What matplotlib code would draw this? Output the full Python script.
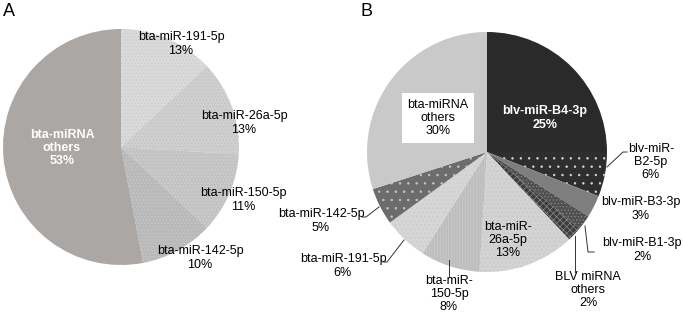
import matplotlib.pyplot as plt

plt.rcParams['font.family'] = ['Liberation Sans', 'DejaVu Sans']
plt.rcParams['hatch.linewidth'] = 0.5

# panel A
a_labels = ['bta-miR-191-5p', 'bta-miR-26a-5p', 'bta-miR-150-5p', 'bta-miR-142-5p', 'bta-miRNA\nothers']
a_values = [13, 13, 11, 10, 53]

# panel B
b_labels = ['blv-miR-B4-3p', 'blv-miR-\nB2-5p', 'blv-miR-B3-3p', 'blv-miR-B1-3p', 'BLV miRNA\nothers',
            'bta-miR-\n26a-5p', 'bta-miR-\n150-5p', 'bta-miR-191-5p', 'bta-miR-142-5p', 'bta-miRNA\nothers']
b_values = [25, 6, 3, 2, 2, 13, 8, 6, 5, 30]

W, H = 683, 315
fig = plt.figure(figsize=(W / 100, H / 100), dpi=100)
ax = fig.add_axes([0, 0, 1, 1])

def py(y):
    # pixel row (from top) -> data y
    return H - y

a_face = ['#dadada', '#cfcfcf', '#c3c3c3', '#b9b9b9', '#aaa7a5']
a_hatch = ['#cacaca', '#c0c0c0', '#d4d4d4', '#cacaca', None]
b_face = ['#2a2a2a', '#2e2e2e', '#7e7e7e', '#505050', '#3c3c3c',
          '#d3d3d3', '#bdbdbd', '#d6d6d6', '#6c6c6c', '#c9c9c9']
b_hatch = [None, '#d8d8d8', None, '#8a8a8a', '#8a8a8a',
           '#c6c6c6', '#cccccc', '#cacaca', '#c8c8c8', None]
b_pat = [None, '..', None, '.....', 'xxxxx', '....', '||||||', '....', '..', None]


def draw_pie(values, face, hcol, pats, center, radius):
    wedges, _ = ax.pie(values, colors=face, startangle=90, counterclock=False,
                       center=center, radius=radius,
                       wedgeprops=dict(linewidth=0))
    over, _ = ax.pie(values, startangle=90, counterclock=False,
                     center=center, radius=radius,
                     wedgeprops=dict(linewidth=0, fill=False))
    for w, hc, p in zip(over, hcol, pats):
        if hc is None:
            w.set_visible(False)
        else:
            w.set_hatch(p)
            w.set_edgecolor(hc)
    return wedges


draw_pie(a_values, a_face, a_hatch, ['.....', '.....', '.....', '.....', None], (121, py(147)), 118)
draw_pie(b_values, b_face, b_hatch, b_pat, (487, py(152)), 120)

ax.set_xlim(0, W)
ax.set_ylim(0, H)
ax.set_aspect('equal')
ax.axis('off')

fs = 9
def lab(x, y, s, **kw):
    kw.setdefault('color', 'black')
    ax.text(x, py(y), s, ha='center', va='center', fontsize=fs, linespacing=1.15, **kw)

# panel A labels
a_pos = [(181, 44), (244, 123), (243, 200), (200, 258)]
for (x, y), name, v in zip(a_pos, a_labels[:4], a_values[:4]):
    lab(x, y, f'{name}\n{v}%')
lab(62, 148, f'{a_labels[4]}\n{a_values[4]}%', color='white', fontweight='bold')

# panel B labels
lab(545, 118, f'{b_labels[0]}\n{b_values[0]}%', color='white', fontweight='bold')
lab(651, 162, f'{b_labels[1]}\n{b_values[1]}%')
lab(641, 209, f'{b_labels[2]}\n{b_values[2]}%')
lab(642, 250, f'{b_labels[3]}\n{b_values[3]}%')
lab(588, 290, f'{b_labels[4]}\n{b_values[4]}%')
lab(508, 240, f'{b_labels[5]}\n{b_values[5]}%')
lab(449, 294, f'{b_labels[6]}\n{b_values[6]}%')
lab(343, 266, f'{b_labels[7]}\n{b_values[7]}%')
lab(321, 221, f'{b_labels[8]}\n{b_values[8]}%')
lab(438, 118, f'{b_labels[9]}\n{b_values[9]}%',
    bbox=dict(facecolor='white', edgecolor='none', pad=4))

# leader lines
leaders = [
    [(607, 167), (623, 152), (627, 152)],
    [(585, 226), (588, 252), (594, 252)],
    [(575, 236), (575, 272)],
    [(449, 260), (449, 277)],
    [(404, 240), (387, 262), (383, 262)],
    [(379, 207), (366, 217), (362, 217)],
]
for pts in leaders:
    ax.plot([p[0] for p in pts], [py(p[1]) for p in pts], color='#333333', lw=0.7)

ax.text(9, py(11), 'A', ha='center', va='center', fontsize=13)
ax.text(366, py(11), 'B', ha='center', va='center', fontsize=13)

fig.savefig('out.png', dpi=100)
